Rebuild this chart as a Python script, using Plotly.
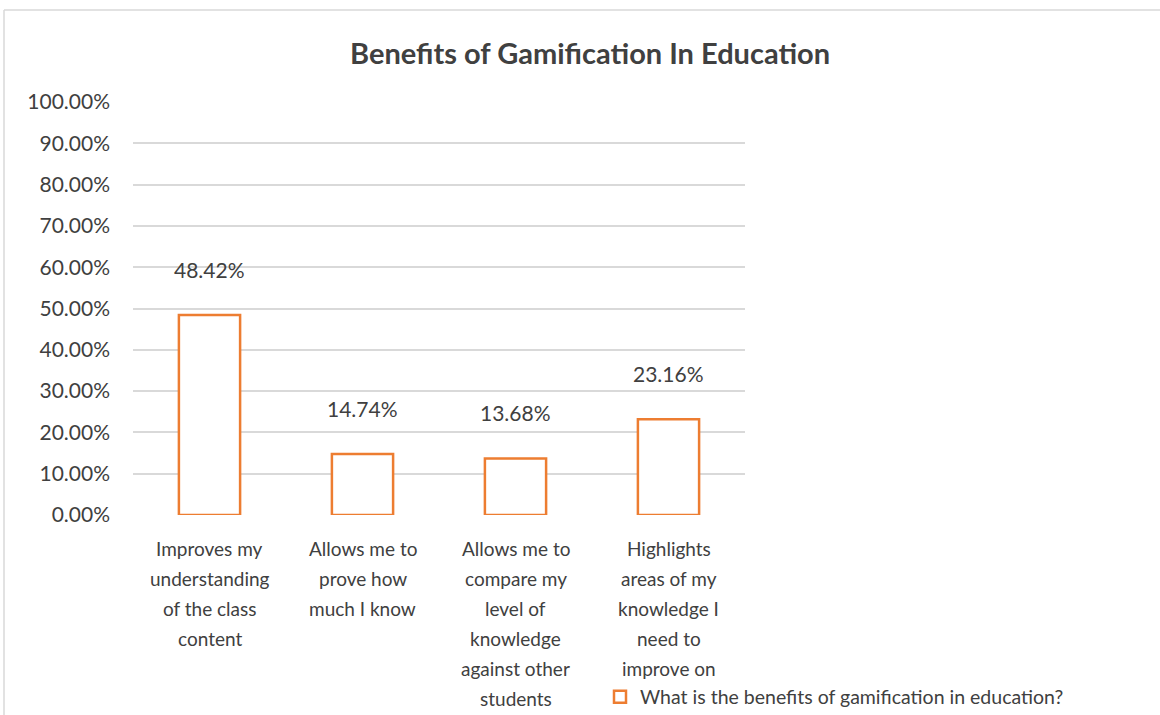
import plotly.graph_objects as go

categories = [
    "Improves my<br>understanding<br>of the class<br>content",
    "Allows me to<br>prove how<br>much I know",
    "Allows me to<br>compare my<br>level of<br>knowledge<br>against other<br>students",
    "Highlights<br>areas of my<br>knowledge I<br>need to<br>improve on",
]
values = [0.4842, 0.1474, 0.1368, 0.2316]
value_labels = ["48.42%", "14.74%", "13.68%", "23.16%"]
y_ticks = [i / 10 for i in range(11)]
y_tick_labels = [f"{i*10}.00%" for i in range(11)]
series_name = "What is the benefits of gamification in education?"
title = "Benefits of Gamification In Education"

W, H = 1160, 715
L, R, T, B = 133, 415, 102, 200
PW, PH = W - L - R, H - T - B
FONT = "Lato"
TXT = "#404040"
ORANGE = "#ED7D31"

def px_x(px):
    return (px - L) / PW

def px_y(py):
    return (H - B - py) / PH

xs = list(range(len(categories)))

fig = go.Figure()
fig.add_trace(go.Bar(
    x=xs, y=values, name=series_name,
    marker=dict(color="white", line=dict(color=ORANGE, width=2.5)),
    width=0.40, showlegend=True,
))

annotations = []
for i, (v, lab) in enumerate(zip(values, value_labels)):
    annotations.append(dict(x=i, y=v, xref="x", yref="y", text=lab, showarrow=False,
                            yanchor="middle", yshift=46,
                            font=dict(family=FONT, size=21, color=TXT)))
for i, cat in enumerate(categories):
    for j, line in enumerate(cat.split("<br>")):
        annotations.append(dict(x=i, y=0, xref="x", yref="y", text=line, showarrow=False,
                                yanchor="middle", yshift=-(33 + 30 * j),
                                font=dict(family=FONT, size=19, color=TXT)))
annotations.append(dict(x=px_x(590), y=px_y(52), xref="paper", yref="paper", text="<b>" + title + "</b>",
                        showarrow=False, xanchor="center", yanchor="middle",
                        font=dict(family=FONT, size=29, color=TXT)))

shapes = [
    dict(type="line", xref="paper", yref="paper", x0=px_x(4), x1=px_x(1200), y0=px_y(10), y1=px_y(10),
         line=dict(color="#D9D9D9", width=1.5)),
    dict(type="line", xref="paper", yref="paper", x0=px_x(4), x1=px_x(4), y0=px_y(10), y1=px_y(760),
         line=dict(color="#D9D9D9", width=1.5)),
]

fig.update_layout(
    width=W, height=H,
    margin=dict(l=L, r=R, t=T, b=B, autoexpand=False),
    paper_bgcolor="white", plot_bgcolor="white",
    font=dict(family=FONT, color=TXT),
    bargap=0.6,
    xaxis=dict(range=[-0.5, len(categories) - 0.5], showticklabels=False, showgrid=False,
               zeroline=False, showline=False, ticks=""),
    yaxis=dict(range=[0, 1], tickvals=y_ticks, ticktext=y_tick_labels, showgrid=True,
               gridcolor="#D9D9D9", gridwidth=1.5, zeroline=False, showline=False,
               tickfont=dict(family=FONT, size=21, color=TXT), ticks="", ticklabelstandoff=22),
    legend=dict(x=px_x(600), y=px_y(697), xanchor="left", yanchor="middle", orientation="h",
                font=dict(family=FONT, size=19.5, color=TXT), itemwidth=30, bgcolor="rgba(0,0,0,0)"),
    annotations=annotations,
    shapes=shapes,
)

fig.write_html("out.html")
